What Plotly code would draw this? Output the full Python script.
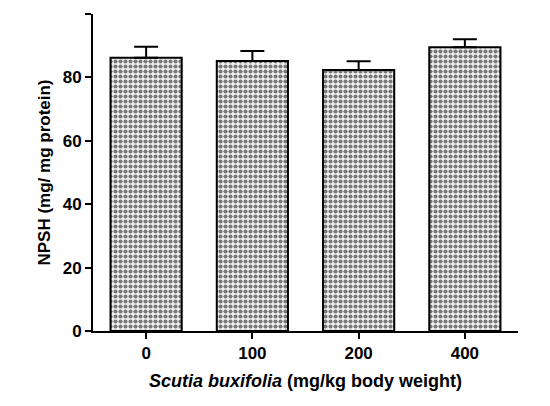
import plotly.graph_objects as go

doses = ["0", "100", "200", "400"]
npsh = [86.2, 85.2, 82.3, 89.5]
sem = [3.5, 3.1, 2.8, 2.5]
y_ticks = [0, 20, 40, 60, 80, 100]

fig = go.Figure(go.Bar(
    x=doses, y=npsh, width=0.67,
    marker=dict(color="#bbbbbb", line=dict(color="black", width=2),
                pattern=dict(shape=".", fgcolor="black", bgcolor="#f2f2f2", size=5, solidity=0.55)),
    error_y=dict(type="data", array=sem, arrayminus=[0] * 4, symmetric=False,
                 color="black", thickness=2, width=12),
))

fig.update_layout(
    width=550, height=406, margin=dict(l=85, r=40, t=6, b=83),
    paper_bgcolor="white", plot_bgcolor="white", showlegend=False,
    font=dict(family="Liberation Sans, Arial", size=17, color="black"),
)
fig.update_xaxes(range=[-0.5, 3.5], showline=True, linecolor="black", linewidth=2,
                 ticks="outside", ticklen=6, tickwidth=2, tickcolor="black",
                 tickfont=dict(size=17, weight="bold"),
                 title=dict(text="<i>Scutia buxifolia</i> (mg/kg body weight)",
                            font=dict(size=18, weight="bold"), standoff=12))
fig.update_yaxes(range=[0, 100], tickvals=y_ticks, showline=True, linecolor="black", linewidth=2,
                 ticks="outside", ticklen=6, tickwidth=2, tickcolor="black", showgrid=False,
                 zeroline=False, tickfont=dict(size=17, weight="bold"),
                 title=dict(text="NPSH (mg/ mg protein)", font=dict(size=17, weight="bold"), standoff=8))

fig.write_html("out.html")
